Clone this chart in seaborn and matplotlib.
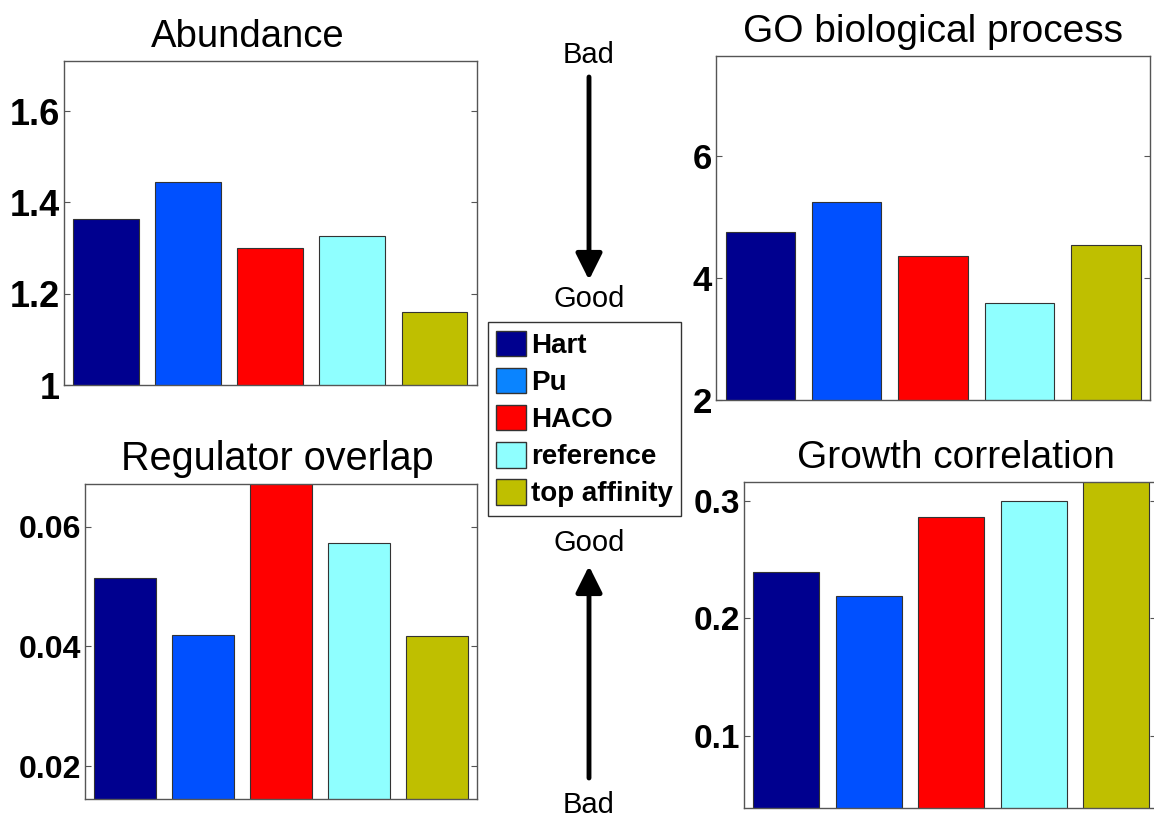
import matplotlib
matplotlib.use('Agg')
import matplotlib.pyplot as plt
import seaborn as sns
import pandas as pd
from matplotlib.patches import Patch
from matplotlib.ticker import FuncFormatter

# --- DATOS ---
metodos = ['Hart', 'Pu', 'HACO', 'reference', 'top affinity']
colores = ['#00008f', '#0050ff', '#ff0000', '#8fffff', '#bfbf00']
colores_leyenda = ['#00008f', '#0a84ff', '#ff0000', '#8fffff', '#bfbf00']

abundancia = [1.364, 1.444, 1.301, 1.326, 1.161]
go_proceso = [4.76, 5.26, 4.37, 3.59, 4.54]
solapamiento_reguladores = [0.0514, 0.0419, 0.0690, 0.0572, 0.0418]
correlacion_crecimiento = [0.2397, 0.219, 0.2867, 0.300, 0.330]

# --- ESTILO ---
sns.set_theme(style='white', rc={'text.color': 'black', 'ytick.color': 'black',
                                  'axes.labelcolor': 'black'})
plt.rcParams['font.family'] = ['Liberation Sans', 'DejaVu Sans']

fig = plt.figure(figsize=(11.54, 8.19), dpi=100)

# titulo, valores, posicion [l, b, w, h], ylim, yticks, xlim, tamaño de ticks, x del titulo, tamaño titulo
paneles = [
    ('Abundance', abundancia, [0.0555, 0.5299, 0.3579, 0.3956],
     (1, 1.71), [1, 1.2, 1.4, 1.6], (-0.51, 4.52), 26, 0.444, 27.5),
    ('GO biological process', go_proceso, [0.6205, 0.5116, 0.3761, 0.4200],
     (2, 7.65), [2, 4, 6], (-0.51, 4.51), 25, 0.5, 28),
    ('Regulator overlap', solapamiento_reguladores, [0.0737, 0.0244, 0.3397, 0.3846],
     (0.0145, 0.0671), [0.02, 0.04, 0.06], (-0.51, 4.51), 23, 0.49, 28.5),
    # este panel queda cortado por el borde derecho de la figura
    ('Growth correlation', correlacion_crecimiento, [0.6447, 0.0134, 0.3570, 0.3980],
     (0.0388, 0.316), [0.1, 0.2, 0.3], (-0.51, 4.48), 24, 0.515, 28),
]

for titulo, valores, pos, ylim, yticks, xlim, fs, xt, ft in paneles:
    ax = fig.add_axes(pos)
    df = pd.DataFrame({'metodo': metodos, 'valor': valores})
    sns.barplot(data=df, x='metodo', y='valor', hue='metodo', palette=colores,
                saturation=1, legend=False, width=0.8, edgecolor='#333333',
                linewidth=0.8, ax=ax)
    ax.set_ylim(*ylim)
    ax.set_xlim(*xlim)
    ax.set_yticks(yticks)
    ax.yaxis.set_major_formatter(FuncFormatter(lambda v, p: '%g' % v))
    ax.set_xticks([])
    ax.set_xlabel('')
    ax.set_ylabel('')
    ax.set_title(titulo, fontsize=ft, pad=10, x=xt, color='black')
    ax.tick_params(axis='y', direction='in', left=True, right=True, length=4,
                   width=0.8, color='#555555', pad=3, labelsize=fs,
                   labelcolor='black')
    for lbl in ax.get_yticklabels():
        lbl.set_fontweight('bold')
    for s in ax.spines.values():
        s.set_color('#555555')
        s.set_linewidth(1)

# --- FLECHAS Bad / Good ---
capa = fig.add_axes([0, 0, 1, 1])
capa.set_xlim(0, 1154)
capa.set_ylim(819, 0)
capa.axis('off')

flecha = dict(arrowstyle='-|>,head_length=0.8,head_width=0.4', color='black',
              lw=3.5, mutation_scale=20, shrinkA=0, shrinkB=0)
capa.annotate('', xy=(589, 280), xytext=(589, 77), arrowprops=flecha)
capa.annotate('', xy=(589, 566), xytext=(589, 778), arrowprops=flecha)
capa.text(589, 55, 'Bad', fontsize=21, ha='center', va='center')
capa.text(589, 299, 'Good', fontsize=21, ha='center', va='center')
capa.text(589, 543, 'Good', fontsize=21, ha='center', va='center')
capa.text(589, 805, 'Bad', fontsize=21, ha='center', va='center')

# --- LEYENDA ---
manijas = [Patch(facecolor=c, edgecolor='#333333', label=m)
           for c, m in zip(colores_leyenda, metodos)]
leyenda = fig.legend(handles=manijas, loc='center', bbox_to_anchor=(0.5065, 0.4884),
                     prop={'weight': 'bold', 'size': 20}, handlelength=1.08,
                     handleheight=1.04, handletextpad=0.15, labelspacing=0.32,
                     borderpad=0.3, borderaxespad=0, fancybox=False, framealpha=1,
                     edgecolor='#333333')
leyenda.get_frame().set_linewidth(1)

plt.savefig('out.png', dpi=100)
print('Figura guardada: out.png')
